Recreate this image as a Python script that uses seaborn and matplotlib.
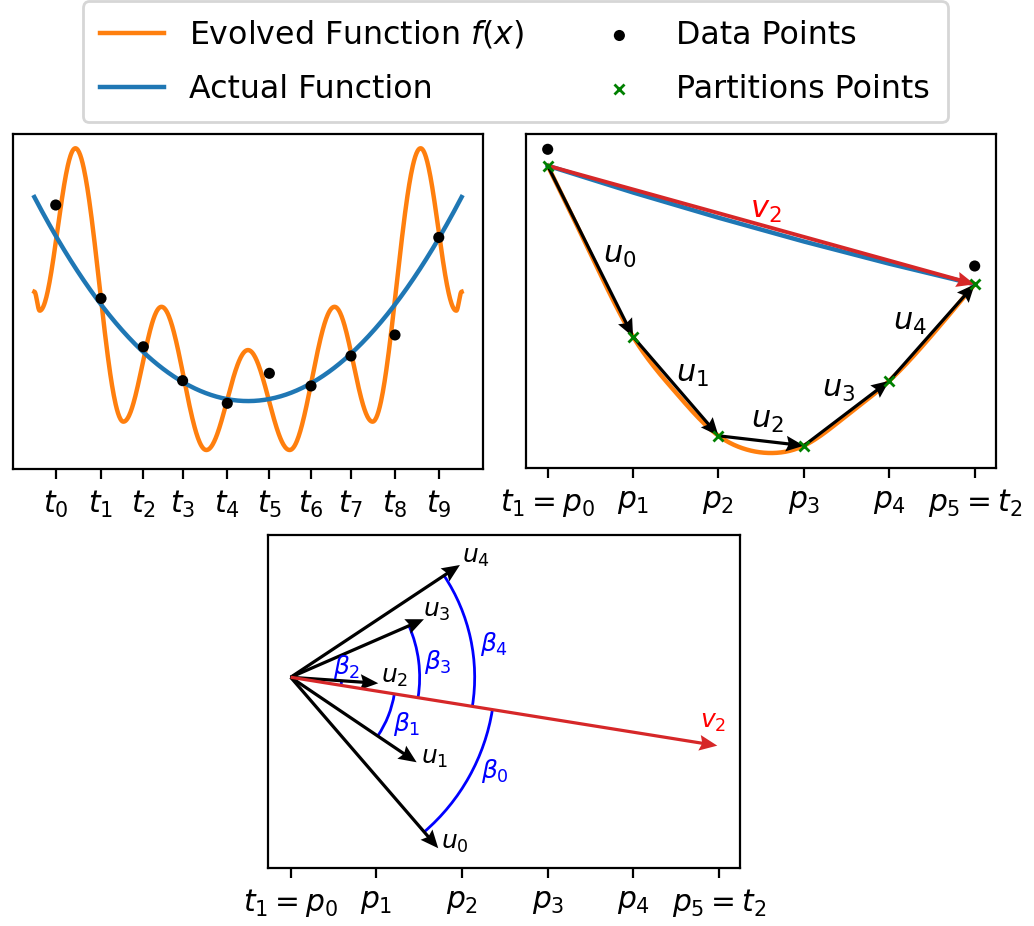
import numpy as np
import matplotlib
matplotlib.use("Agg")
import matplotlib.pyplot as plt
from matplotlib.patches import Arc
import seaborn as sns

# ---------------- data: panel A (whole domain) ----------------
t_pos = [-0.900, -0.688, -0.490, -0.306, -0.097, 0.100, 0.295, 0.482, 0.688, 0.893]
t_labels = ['$t_0$', '$t_1$', '$t_2$', '$t_3$', '$t_4$', '$t_5$', '$t_6$', '$t_7$', '$t_8$', '$t_9$']
data_y = [0.961, 0.503, 0.266, 0.100, -0.011, 0.136, 0.074, 0.221, 0.324, 0.802]
# extrema of the evolved function
evolved_knot_x = [-1.0, -0.975, -0.808, -0.583, -0.405, -0.195, 0.0,
                  0.195, 0.405, 0.583, 0.808, 0.975, 1.0]
evolved_knot_y = [0.536, 0.443, 1.239, -0.101, 0.462, -0.240, 0.250,
                  -0.240, 0.462, -0.101, 1.239, 0.443, 0.536]
actual_coef = [1.0, 0.0, 0.0]          # actual function: y = x^2
actual_domain = [-1.0, 1.0]

# ---------------- data: panel B (zoom on [t1, t2]) ----------------
p_pos = [0, 1, 2, 3, 4, 5]
p_labels = ['$t_1 = p_0$', '$p_1$', '$p_2$', '$p_3$', '$p_4$', '$p_5 = t_2$']
zoom_evolved_x = [0.0, 0.495, 1.0, 1.49, 2.0, 2.29, 2.6, 3.0, 3.48, 4.0, 4.5, 5.0]
zoom_evolved_y = [2.873, 2.005, 1.162, 0.615, 0.172, 0.045, 0.0, 0.073, 0.36, 0.722, 1.18, 1.687]
zoom_actual_y = [2.873, 2.605, 2.353, 2.115, 1.893, 1.687]
partition_y = [2.873, 1.162, 0.172, 0.073, 0.722, 1.687]
zoom_data_x = [0, 5]
zoom_data_y = [3.037, 1.870]
u_names = ['$u_0$', '$u_1$', '$u_2$', '$u_3$', '$u_4$']

# ---------------- data: panel C (vectors from common origin) ----------------
u_dx = [1.722, 1.470, 1.022, 1.555, 1.975]
u_dy = [-1.995, -0.992, -0.070, 0.677, 1.310]
v_dx = [4.978]
v_dy = [-0.798]
beta_names = [r'$\beta_0$', r'$\beta_1$', r'$\beta_2$', r'$\beta_3$', r'$\beta_4$']
beta_radius = [2.384, 1.225, 0.595, 1.505, 2.147]


def cosine_segments(xk, yk, n=80):
    xs, ys = [], []
    for i in range(len(xk) - 1):
        s = np.linspace(0, 1, n, endpoint=(i == len(xk) - 2))
        xs.append(xk[i] + (xk[i + 1] - xk[i]) * s)
        ys.append(yk[i] + (yk[i + 1] - yk[i]) * (1 - np.cos(np.pi * s)) / 2)
    return np.concatenate(xs), np.concatenate(ys)


def natural_spline(x, y, xs):
    x = np.asarray(x, float); y = np.asarray(y, float)
    n = len(x); h = np.diff(x)
    A = np.zeros((n, n)); b = np.zeros(n)
    A[0, 0] = A[-1, -1] = 1.0
    for i in range(1, n - 1):
        A[i, i - 1] = h[i - 1]; A[i, i] = 2 * (h[i - 1] + h[i]); A[i, i + 1] = h[i]
        b[i] = 3 * ((y[i + 1] - y[i]) / h[i] - (y[i] - y[i - 1]) / h[i - 1])
    c = np.linalg.solve(A, b)
    idx = np.clip(np.searchsorted(x, xs) - 1, 0, n - 2)
    hh = h[idx]
    bb = (y[idx + 1] - y[idx]) / hh - hh * (2 * c[idx] + c[idx + 1]) / 3
    dd = (c[idx + 1] - c[idx]) / (3 * hh)
    dx = xs - x[idx]
    return y[idx] + bb * dx + c[idx] * dx ** 2 + dd * dx ** 3


W, H = 1034, 926
fig = plt.figure(figsize=(W / 200, H / 200), dpi=200)
TICK_FS = 10.7
BLACK_ARROW = dict(angles='xy', scale_units='xy', scale=1, width=0.0068,
                   headwidth=4.9, headlength=5.6, headaxislength=4.9, zorder=3)
RED_ARROW = dict(angles='xy', scale_units='xy', scale=1, width=0.0082,
                 headwidth=4.0, headlength=4.7, headaxislength=4.2, zorder=3)

# ---------------- panel A ----------------
ax1 = fig.add_axes([13 / W, 1 - 469 / H, 470 / W, 335 / H])
ex, ey = cosine_segments(evolved_knot_x, evolved_knot_y)
sns.lineplot(x=ex, y=ey, ax=ax1, color='tab:orange', lw=1.6, sort=False,
             estimator=None, legend=False)
line_evolved = ax1.lines[-1]
ax_x = np.linspace(actual_domain[0], actual_domain[1], 400)
sns.lineplot(x=ax_x, y=np.polyval(actual_coef, ax_x), ax=ax1, color='tab:blue', lw=1.6,
             sort=False, estimator=None, legend=False)
line_actual = ax1.lines[-1]
sns.scatterplot(x=t_pos, y=data_y, ax=ax1, color='k', s=16, linewidth=0,
                edgecolor='none', zorder=4, legend=False)
dots = ax1.collections[-1]
ax1.set_xlim(-1.1, 1.1)
ax1.set_ylim(-0.333, 1.309)
ax1.set_xticks(t_pos, t_labels)
ax1.set_yticks([])

# ---------------- panel B ----------------
ax2 = fig.add_axes([526 / W, 1 - 467.7 / H, 470.3 / W, 333.4 / H])
zx = np.linspace(zoom_evolved_x[0], zoom_evolved_x[-1], 400)
sns.lineplot(x=zx, y=natural_spline(zoom_evolved_x, zoom_evolved_y, zx), ax=ax2,
             color='tab:orange', lw=1.6, sort=False, estimator=None, legend=False)
sns.lineplot(x=p_pos, y=zoom_actual_y, ax=ax2, color='tab:blue', lw=1.6,
             sort=False, estimator=None, legend=False)
px = np.array(p_pos, float); py = np.array(partition_y, float)
ax2.quiver([px[0]], [py[0]], [px[-1] - px[0]], [py[-1] - py[0]], color='tab:red', **RED_ARROW)
ax2.quiver(px[:-1], py[:-1], np.diff(px), np.diff(py), color='k', **BLACK_ARROW)
sns.scatterplot(x=p_pos, y=partition_y, ax=ax2, marker='x', color='green', s=13,
                linewidth=1.0, zorder=5, legend=False)
xmarks = ax2.collections[-1]
sns.scatterplot(x=zoom_data_x, y=zoom_data_y, ax=ax2, color='k', s=16, linewidth=0,
                edgecolor='none', zorder=5, legend=False)
u_offsets_b = [(10.4, -1.6), (6.0, 4.4), (2.3, 7.2), (-3.0, 8.4), (-7.9, 3.6)]
for i in range(5):
    mid = ((px[i] + px[i + 1]) / 2, (py[i] + py[i + 1]) / 2)
    ax2.annotate(u_names[i], xy=mid, xytext=u_offsets_b[i], textcoords='offset points',
                 ha='center', va='center', fontsize=11)
ax2.annotate('$v_2$', xy=((px[0] + px[-1]) / 2, (py[0] + py[-1]) / 2), xytext=(1.5, 5.2),
             textcoords='offset points', ha='center', va='center', fontsize=11, color='red')
ax2.set_xlim(-0.254, 5.253)
ax2.set_ylim(-0.147, 3.187)
ax2.set_xticks(p_pos, p_labels)
ax2.set_yticks([])

# ---------------- panel C ----------------
ax3 = fig.add_axes([268.3 / W, 1 - 867.7 / H, 471.7 / W, 332.7 / H])
ax3.quiver(np.zeros(5), np.zeros(5), u_dx, u_dy, color='k', **BLACK_ARROW)
ax3.quiver([0], [0], v_dx, v_dy, color='tab:red', **BLACK_ARROW)
ang_v = np.degrees(np.arctan2(v_dy[0], v_dx[0]))
beta_offsets = [(9.4, 2.2), (6.8, -2.9), (1.8, 5.8), (7.1, -0.5), (8.6, -2.2)]
for i in range(5):
    ang_u = np.degrees(np.arctan2(u_dy[i], u_dx[i]))
    r = beta_radius[i]
    ax3.add_patch(Arc((0, 0), 2 * r, 2 * r, theta1=min(ang_u, ang_v), theta2=max(ang_u, ang_v),
                      color='blue', lw=1.0, zorder=2))
    mid = np.radians((ang_u + ang_v) / 2)
    ax3.annotate(beta_names[i], xy=(r * np.cos(mid), r * np.sin(mid)), xytext=beta_offsets[i],
                 textcoords='offset points', ha='center', va='center', fontsize=9, color='blue')
u_offsets_c = [(6.0, 1.9), (6.4, 1.7), (6.0, 2.3), (4.7, 3.0), (5.8, 2.9)]
for i in range(5):
    ax3.annotate(u_names[i], xy=(u_dx[i], u_dy[i]), xytext=u_offsets_c[i],
                 textcoords='offset points', ha='center', va='center', fontsize=9)
ax3.annotate('$v_2$', xy=(v_dx[0], v_dy[0]), xytext=(-1.5, 8.5), textcoords='offset points',
             ha='center', va='center', fontsize=9, color='red')
ax3.set_xlim(-0.261, 5.243)
ax3.set_ylim(-2.222, 1.660)
ax3.set_xticks(p_pos, p_labels)
ax3.set_yticks([])

for ax in (ax1, ax2, ax3):
    ax.tick_params(axis='x', labelsize=TICK_FS)
    ax.set_xlabel('')
    ax.set_ylabel('')

fig.legend([line_evolved, line_actual, dots, xmarks],
           ['Evolved Function $f(x)$', 'Actual Function', 'Data Points', 'Partitions Points'],
           loc='center', bbox_to_anchor=(515.3 / W, 1 - 61.7 / H), ncol=2, fontsize=11.4,
           labelspacing=0.72, borderpad=0.55)

fig.savefig('out.png', dpi=200)
